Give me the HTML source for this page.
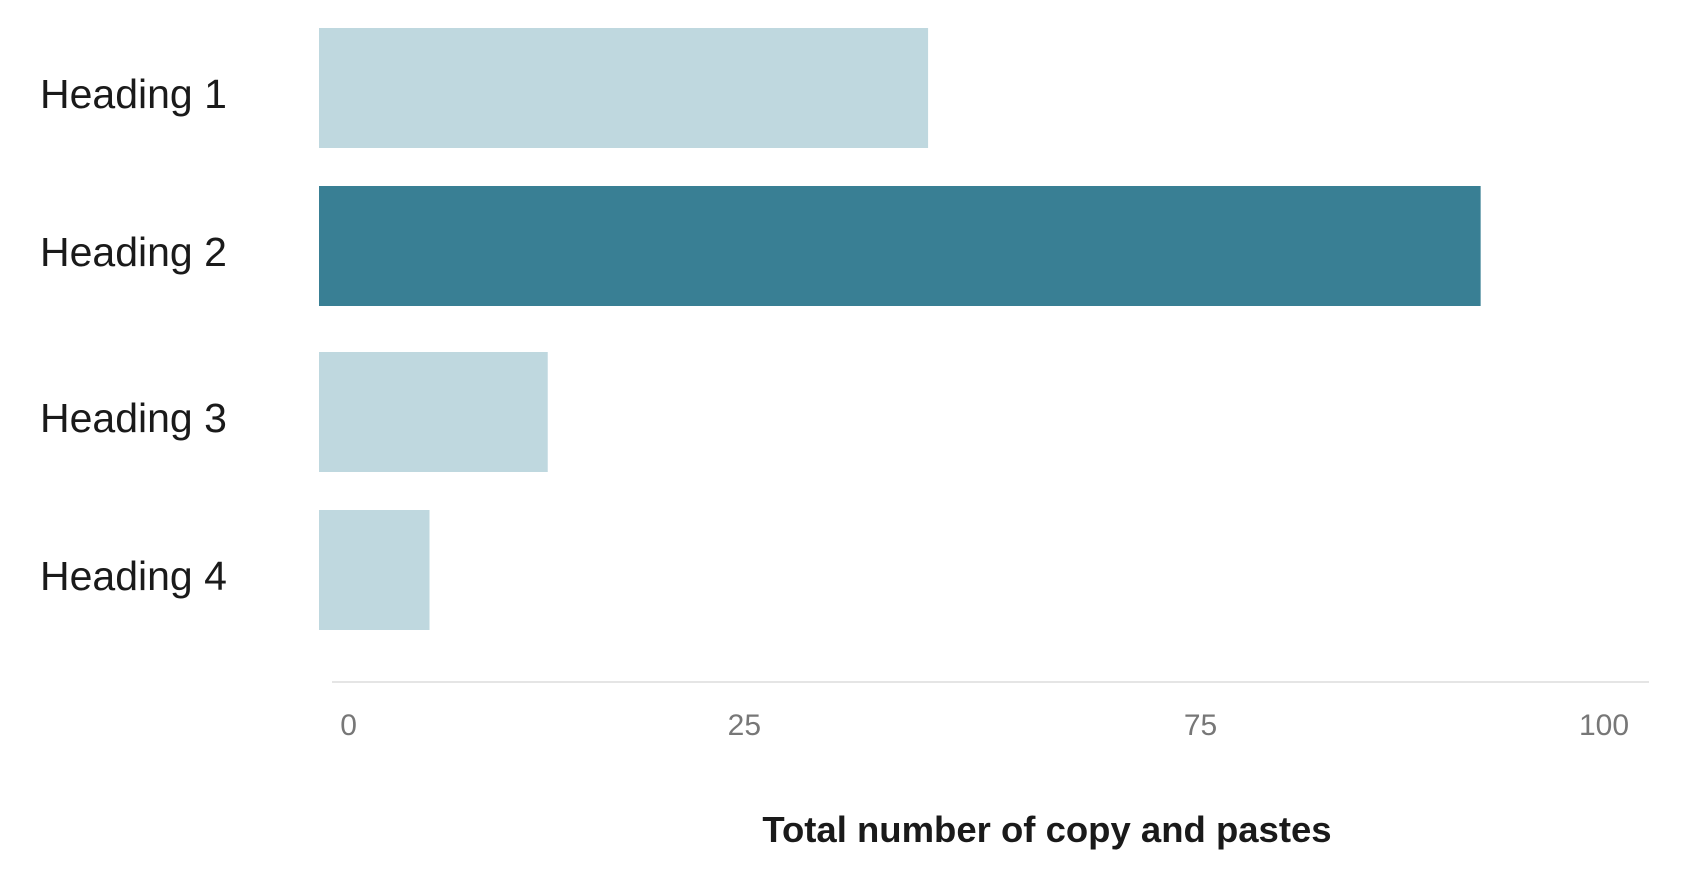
<!DOCTYPE html>
<html><head><meta charset="utf-8"><style>
html,body{margin:0;padding:0;background:#fff;width:1706px;height:878px;overflow:hidden}
svg{display:block;font-family:"Liberation Sans",sans-serif}
</style></head><body>
<svg id="chart" width="1706" height="878" viewBox="0 0 1706 878"></svg>
<script>
const categories = ['Heading 1','Heading 2','Heading 3','Heading 4'];
const values = [47.4, 90.4, 17.8, 8.6];
const highlighted = [false, true, false, false];
const tickLabels = ['0','25','75','100'];
const tickValues = [2.3, 33.1, 68.6, 100];

const NS='http://www.w3.org/2000/svg';
const svg=document.getElementById('chart');
const x0=319, kx=12.85;
function xScale(v){return x0+v*kx;}
const bandTops=[28,186,352,510], bandH=120;
function yScale(i){return bandTops[i];}
function mk(tag,attrs){const e=document.createElementNS(NS,tag);for(const k in attrs)e.setAttribute(k,attrs[k]);return e;}

categories.forEach((c,i)=>{
  const y=yScale(i);
  const r=mk('rect',{x:xScale(0),y:y,width:xScale(values[i])-xScale(0),height:bandH,fill:highlighted[i]?'#397f94':'#bfd8df'});
  
  
  svg.appendChild(r);
  const t=mk('text',{x:40,y:y+bandH/2+20,'font-size':41,fill:'#1a1a1a'});
  t.textContent=c;
  
  
  svg.appendChild(t);
});
const axis=mk('line',{x1:332,x2:1649,y1:682,y2:682,stroke:'#e5e5e5','stroke-width':2});


svg.appendChild(axis);
tickLabels.forEach((l,i)=>{
  const t=mk('text',{x:xScale(tickValues[i]),y:735,'font-size':30,fill:'#777','text-anchor':'middle'});
  t.textContent=l;
  
  
  svg.appendChild(t);
});
const title=mk('text',{x:1047,y:842,'font-size':36.5,'font-weight':'bold',fill:'#1a1a1a','text-anchor':'middle'});
title.textContent='Total number of copy and pastes';


svg.appendChild(title);
</script>
</body></html>
